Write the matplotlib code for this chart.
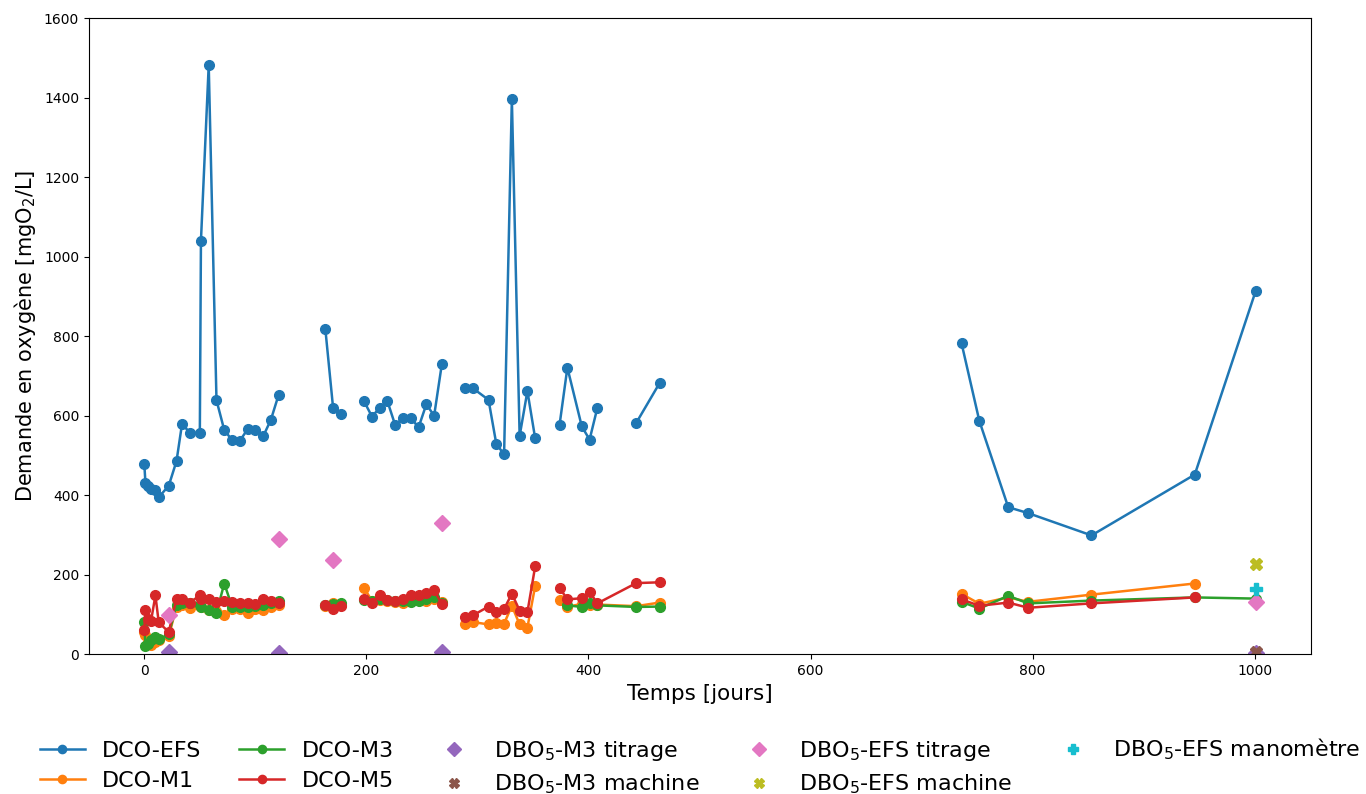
#! /usr/bin/env python3

import numpy as np
import matplotlib.pyplot as plt

nan = np.nan

# DCO-EFS (blue), nan = break in the line
efs_days = [0, 1, 3, 6, 10, 13, 22, 29, 34, 41, 50, 51, 58, 65, 72, 79, 86, 93, 100, 107, 114, 121, 140,
            163, 170, 177, 188,
            198, 205, 212, 219, 226, 233, 240, 247, 254, 261, 268, 280,
            289, 296, 310, 317, 324, 331, 338, 345, 352, 362,
            374, 381, 394, 401, 408, 425,
            443, 464, 600,
            736, 752, 778, 796, 853, 946, 1001]
efs_dco = [478, 432, 424, 417, 414, 395, 424, 486, 580, 557, 557, 1040, 1482, 639, 564, 539, 537, 566, 565, 548, 590, 653, nan,
           819, 620, 604, nan,
           636, 598, 620, 636, 576, 595, 594, 571, 629, 600, 731, nan,
           669, 669, 640, 529, 503, 1397, 549, 662, 543, nan,
           578, 721, 573, 540, 620, nan,
           582, 682, nan,
           782, 587, 370, 355, 299, 452, 915]

# DCO-M1 / M3 / M5
m_days = [0, 1, 3, 6, 10, 13, 22, 29, 34, 41, 50, 51, 58, 65, 72, 79, 86, 93, 100, 107, 114, 121, 140,
          163, 170, 177, 188,
          198, 205, 212, 219, 226, 233, 240, 247, 254, 261, 268, 280,
          289, 296, 310, 317, 324, 331, 338, 345, 352, 362,
          374, 381, 394, 401, 408, 443, 464, 600,
          736, 752, 778, 796, 853, 946, 1001]
m1_dco = [55, 48, 30, 23, 30, 35, 45, 120, 125, 116, 122, 118, 112, 108, 99, 115, 114, 105, 114, 112, 120, 123, nan,
          122, 128, 124, nan,
          167, 134, 137, 134, 131, 130, 134, 137, 135, 140, 131, nan,
          75, 81, 75, 79, 77, 122, 75, 67, 172, nan,
          136, 119, 127, 124, 125, 121, 130, nan,
          152, 127, 143, 132, 150, 178, nan]
m3_dco = [80, 20, 25, 35, 44, 38, 50, 125, 128, 128, 124, 118, 112, 104, 178, 120, 118, 120, 122, 124, 128, 133, nan,
          123, 126, 128, nan,
          137, 133, 140, 137, 135, 133, 132, 135, 138, 145, 130, nan,
          nan, nan, nan, nan, nan, nan, nan, nan, nan, nan,
          nan, 123, 119, 128, 123, 119, 120, nan,
          132, 115, 147, 128, 135, 143, 140]
m5_dco = [60, 112, 88, 83, 148, 80, 56, 140, 138, 130, 148, 140, 140, 132, 133, 132, 128, 128, 126, 138, 134, 130, nan,
          125, 115, 122, nan,
          138, 129, 149, 136, 134, 138, 149, 149, 154, 161, 126, nan,
          94, 98, 120, 106, 114, 152, 110, 106, 221, nan,
          167, 138, 141, 157, 128, 179, 181, nan,
          138, 122, 130, 117, 128, 143, nan]

# DBO5 points
m3_tit_days = [22, 121, 268, 1001]
m3_tit = [5, 2, 5, 3]
m3_mach_days = [1001]
m3_mach = [5]
efs_tit_days = [22, 121, 170, 268, 1001]
efs_tit = [98, 290, 237, 330, 132]
efs_mach_days = [1001]
efs_mach = [226]
efs_mano_days = [1001]
efs_mano = [165]

fig = plt.figure(figsize=(13.66, 7.94), dpi=100)
ax = fig.add_axes([0.065, 0.176, 0.895, 0.801])

ms = 7
ax.plot(efs_days, efs_dco, "-o", color="#1f77b4", ms=ms, lw=1.8, label="DCO-EFS")
ax.plot(m_days, m1_dco, "-o", color="#ff7f0e", ms=ms, lw=1.8, label="DCO-M1")
ax.plot(m_days, m3_dco, "-o", color="#2ca02c", ms=ms, lw=1.8, label="DCO-M3")
ax.plot(m_days, m5_dco, "-o", color="#d62728", ms=ms, lw=1.8, label="DCO-M5")
ax.plot(m3_tit_days, m3_tit, "D", color="#9467bd", ms=8, ls="none", label="DBO$_5$-M3 titrage")
ax.plot(m3_mach_days, m3_mach, "X", color="#8c564b", ms=8, ls="none", label="DBO$_5$-M3 machine")
ax.plot(efs_tit_days, efs_tit, "D", color="#e377c2", ms=8, ls="none", label="DBO$_5$-EFS titrage")
ax.plot(efs_mach_days, efs_mach, "X", color="#bcbd22", ms=8, ls="none", label="DBO$_5$-EFS machine")
ax.plot(efs_mano_days, efs_mano, "P", color="#17becf", ms=8, ls="none", label="DBO$_5$-EFS manomètre")

ax.set_xlim(-50, 1051)
ax.set_ylim(0, 1600)
ax.tick_params(labelsize=10)
ax.set_xlabel("Temps [jours]", fontsize=15.5)
ax.set_ylabel("Demande en oxygène [mgO$_2$/L]", fontsize=15)

# legend centred under the axes
fig.legend(loc="lower center", bbox_to_anchor=(0.5125, -0.028), ncol=5, fontsize=16,
           frameon=False, columnspacing=1.7, handlelength=2.0, labelspacing=0.45,
           markerscale=0.85)

fig.savefig("out.png", dpi=100)
